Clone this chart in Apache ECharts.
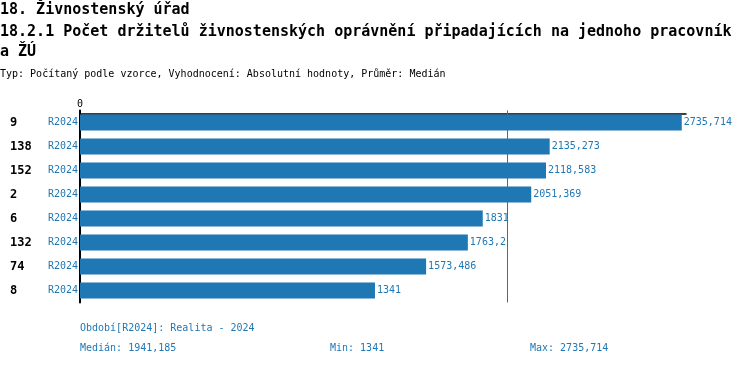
<!DOCTYPE html>
<html>
<head>
<meta charset="utf-8">
<script src="https://cdn.jsdelivr.net/npm/echarts@6/dist/echarts.min.js"></script>
<style>html,body{margin:0;padding:0;background:#fff}#c{width:750px;height:366px}</style>
</head>
<body>
<div id="c"></div>
<script>
const categories = ['9', '138', '152', '2', '6', '132', '74', '8'];
const periodLabel = 'R2024';
const values = [2735.714, 2135.273, 2118.583, 2051.369, 1831, 1763.2, 1573.486, 1341];
const xTicks = [0];

const MONO = '"DejaVu Sans Mono", "Liberation Mono", monospace';
const BLUE = '#1f77b4';
function fmt(v) {
  return String(Math.round(v * 1000) / 1000).replace('.', ',');
}
const sorted = values.slice().sort((a, b) => a - b);
const n = sorted.length;
const median = n % 2 ? sorted[(n - 1) / 2] : (sorted[n / 2 - 1] + sorted[n / 2]) / 2;
const minV = sorted[0], maxV = sorted[n - 1];

function t(text, left, top, size, bold, color) {
  return {text, left, top, padding: 0,
    textStyle: {fontFamily: MONO, fontSize: size, fontWeight: bold ? 'bold' : 'normal', color}};
}

const chart = echarts.init(document.getElementById('c'), null, {renderer: 'canvas'});
chart.setOption({
  animation: false,
  backgroundColor: '#fff',
  title: [
    t('18. Živnostenský úřad', 0, 3, 15, true, '#000'),
    t('18.2.1 Počet držitelů živnostenských oprávnění připadajících na jednoho pracovník', 0, 24.5, 15, true, '#000'),
    t('a ŽÚ', 0, 45, 15, true, '#000'),
    t('Typ: Počítaný podle vzorce, Vyhodnocení: Absolutní hodnoty, Průměr: Medián', 0, 69, 10, false, '#000'),
    t('Období[' + periodLabel + ']: Realita - 2024', 80, 323, 10, false, BLUE),
    t('Medián: ' + fmt(median), 80, 343, 10, false, BLUE),
    t('Min: ' + fmt(minV), 330, 343, 10, false, BLUE),
    t('Max: ' + fmt(maxV), 530, 343, 10, false, BLUE)
  ],
  grid: {left: 80, right: 64, top: 110.5, height: 192, containLabel: false},
  xAxis: {
    type: 'value',
    position: 'top',
    offset: -3.5,
    min: 0,
    max: 2755,
    interval: 100000,
    splitLine: {show: false},
    axisLine: {show: true, lineStyle: {color: '#000', width: 1.5}},
    axisTick: {show: true, length: 4, lineStyle: {color: '#000', width: 2}},
    axisLabel: {
      show: true, margin: 5, showMaxLabel: false,
      fontFamily: MONO, fontSize: 10, color: '#000',
      formatter: v => (xTicks.indexOf(v) >= 0 ? String(v) : '')
    }
  },
  yAxis: {
    type: 'category',
    inverse: true,
    data: categories,
    axisLine: {show: true, lineStyle: {color: '#000', width: 2}},
    axisTick: {show: false},
    axisLabel: {
      margin: 2,
      formatter: name => '{id|' + name + '}{p|' + periodLabel + '}',
      rich: {
        id: {width: 38, align: 'left', fontFamily: MONO, fontSize: 12, fontWeight: 'bold', color: '#000'},
        p: {width: 30, align: 'left', fontFamily: MONO, fontSize: 10, color: BLUE}
      }
    }
  },
  series: [{
    type: 'bar',
    data: values,
    barWidth: 16,
    itemStyle: {color: BLUE, borderRadius: 0, borderWidth: 0},
    label: {
      show: true, position: 'right', distance: 2,
      fontFamily: MONO, fontSize: 10, color: BLUE,
      formatter: p => fmt(p.value)
    },
    markLine: {
      silent: true,
      symbol: ['none', 'none'],
      label: {show: false},
      lineStyle: {color: BLUE, type: 'solid', width: 1, opacity: 1},
      emphasis: {disabled: true},
      data: [{xAxis: median}]
    }
  }]
});
</script>
</body>
</html>
